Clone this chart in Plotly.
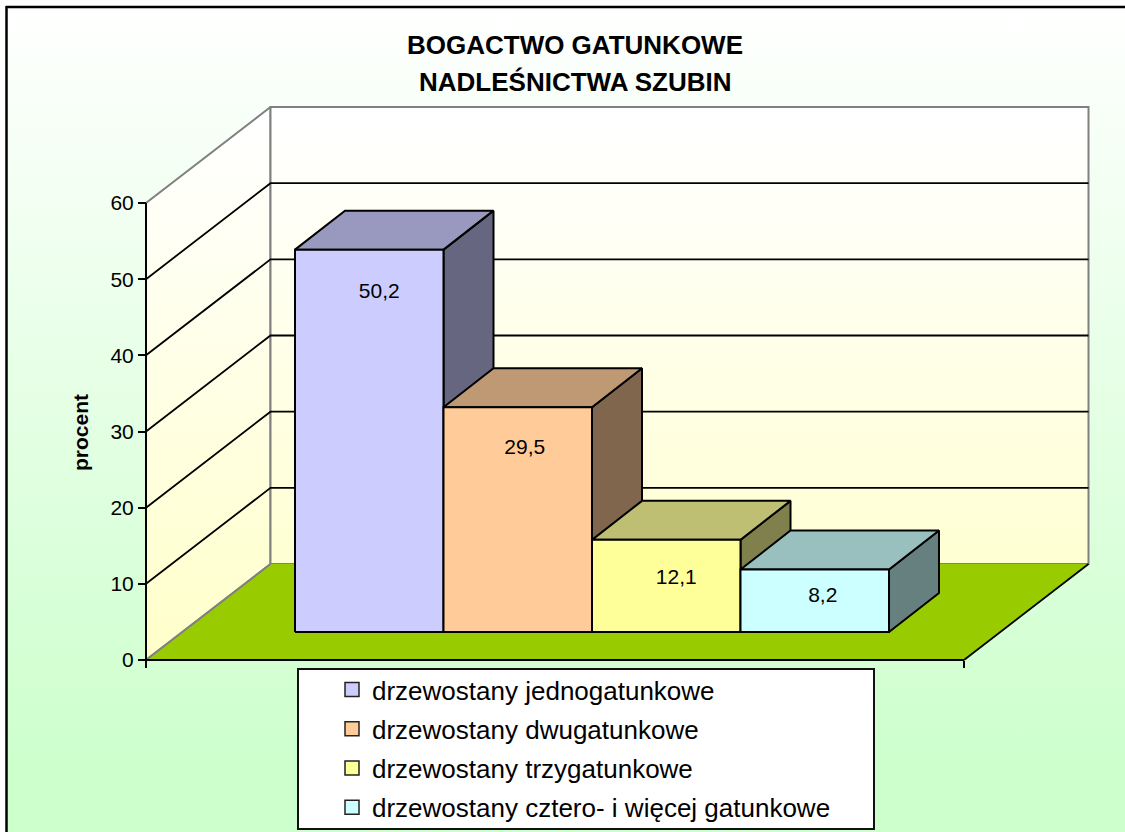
import plotly.graph_objects as go

# ---- data ----
series_names = ["drzewostany jednogatunkowe", "drzewostany dwugatunkowe",
                "drzewostany trzygatunkowe", "drzewostany cztero- i więcej gatunkowe"]
series_values = [50.2, 29.5, 12.1, 8.2]
y_ticks = [0, 10, 20, 30, 40, 50, 60]
title_lines = ["BOGACTWO GATUNKOWE", "NADLEŚNICTWA SZUBIN"]
y_title = "procent"

# ---- styling / layout constants ----
FRONT = ["#CCCCFF", "#FFCC99", "#FFFF99", "#CCFFFF"]
TOP = ["#9999BF", "#BF9973", "#BFBF73", "#99BFBF"]
SIDE = ["#666680", "#80664D", "#80804D", "#668080"]
W, H = 1125, 832
PX_L, PX_R, PX_Y0, PX_Y60 = 146, 964, 660, 203
UX = PX_R - PX_L
UY = (PX_Y0 - PX_Y60) / 60
X = lambda p: (p - PX_L) / UX
Y = lambda p: (PX_Y0 - p) / UY
FONT = "Liberation Sans, Arial, sans-serif"

WALL_DX, WALL_DY = 124.5 / UX, 96 / UY
BAR_X0, BAR_W = X(295), 148.5 / UX
BAR_BASE = Y(632)
BAR_DX, BAR_DY = 50 / UX, 39 / UY
LABEL_DX = [10, 7, 10, 8]
LABEL_DROP = [43, 41, 39, 27]

fig = go.Figure()


def poly(xs, ys, fill=None, line="black", lw=1.8, grad=None):
    kw = dict(x=list(xs) + [xs[0]], y=list(ys) + [ys[0]], mode="lines", fill="toself",
              line=dict(color=line, width=lw), showlegend=False, hoverinfo="skip")
    if grad:
        kw["fillgradient"] = grad
    else:
        kw["fillcolor"] = fill
    fig.add_trace(go.Scatter(**kw))


def seg(xs, ys, color="black", lw=1.8):
    fig.add_trace(go.Scatter(x=xs, y=ys, mode="lines", line=dict(color=color, width=lw),
                             showlegend=False, hoverinfo="skip"))


# page background
poly([X(7), X(W + 2), X(W + 2), X(7)], [Y(8), Y(8), Y(H + 2), Y(H + 2)],
     line="rgba(0,0,0,0)", lw=0,
     grad=dict(type="vertical", start=Y(780), stop=Y(8),
               colorscale=[[0, "#CCFFCC"], [1, "#FFFFFF"]]))

ymax = y_ticks[-1]
wall_grad = dict(type="vertical", start=Y(640), stop=Y(130),
                 colorscale=[[0, "#FFFFCC"], [1, "#FFFFFF"]])
# side wall, back wall, floor
poly([0, WALL_DX, WALL_DX, 0], [0, WALL_DY, ymax + WALL_DY, ymax], line="#808080", lw=2, grad=wall_grad)
poly([WALL_DX, 1 + WALL_DX, 1 + WALL_DX, WALL_DX], [WALL_DY, WALL_DY, ymax + WALL_DY, ymax + WALL_DY],
     line="#808080", lw=2, grad=wall_grad)
poly([0, 1, 1 + WALL_DX, WALL_DX], [0, 0, WALL_DY, WALL_DY], fill="#99CC00", line="rgba(0,0,0,0)", lw=0)
seg([0, WALL_DX], [0, WALL_DY], "#808080", 2)
seg([1, 1 + WALL_DX], [0, WALL_DY], "black", 1.8)
# gridlines
for t in y_ticks[1:-1]:
    seg([0, WALL_DX, 1 + WALL_DX], [t, t + WALL_DY, t + WALL_DY])
# axis lines
seg([0, 0], [0, ymax], "black", 2)
seg([0, 1], [0, 0], "black", 2)

# bars
for i, v in enumerate(series_values):
    x0 = BAR_X0 + i * BAR_W
    x1 = x0 + BAR_W
    y0 = BAR_BASE
    y1 = BAR_BASE + v
    poly([x1, x1 + BAR_DX, x1 + BAR_DX, x1], [y0, y0 + BAR_DY, y1 + BAR_DY, y1], SIDE[i], lw=2)
    poly([x0, x1, x1 + BAR_DX, x0 + BAR_DX], [y1, y1, y1 + BAR_DY, y1 + BAR_DY], TOP[i], lw=2)
    poly([x0, x1, x1, x0], [y0, y0, y1, y1], FRONT[i], lw=2)
    fig.add_trace(go.Scatter(x=[(x0 + x1) / 2 + LABEL_DX[i] / UX], y=[y1 - LABEL_DROP[i] / UY],
                             mode="text", text=[f"{v}".replace(".", ",")],
                             textfont=dict(family=FONT, size=21, color="black"),
                             textposition="middle center",
                             showlegend=False, hoverinfo="skip"))

# legend entries
for i, name in enumerate(series_names):
    fig.add_trace(go.Scatter(x=[None], y=[None], mode="markers", name=name, legendgroup=str(i),
                             marker=dict(symbol="square", size=14, color=FRONT[i],
                                         line=dict(color="#222222", width=1.5))))

fig.update_layout(
    template="none",
    width=W, height=H, autosize=False,
    margin=dict(l=0, r=0, t=0, b=0),
    paper_bgcolor="white", plot_bgcolor="rgba(0,0,0,0)",
    font=dict(family=FONT, color="black"),
    title=dict(text=title_lines[0], x=575 / W, xanchor="center", y=1 - 45 / H, yanchor="middle",
               font=dict(family=FONT, size=26, color="black", weight="bold")),
    annotations=[
        dict(text=f"<b>{title_lines[1]}</b>", xref="paper", yref="paper", x=575 / W, y=1 - 82 / H,
             xanchor="center", yanchor="middle", showarrow=False,
             font=dict(family=FONT, size=26, color="black")),
        dict(text=f"<b>{y_title}</b>", xref="paper", yref="paper", x=80 / W, y=1 - 433 / H,
             xanchor="center", yanchor="middle", textangle=-90, showarrow=False,
             font=dict(family=FONT, size=21, color="black")),
    ],
    xaxis=dict(domain=[0, 1], range=[X(0), X(W)], anchor="free", position=(H - PX_Y0) / H,
               tickvals=[0, 1], showticklabels=False, automargin=False,
               ticks="outside", ticklen=7, tickwidth=1.8, tickcolor="black",
               showline=False, showgrid=False, zeroline=False),
    yaxis=dict(domain=[0, 1], range=[Y(H), Y(0)], anchor="free", position=PX_L / W,
               tickvals=y_ticks, automargin=False,
               ticks="outside", ticklen=8, tickwidth=1.8, tickcolor="black",
               tickfont=dict(family=FONT, size=21, color="black"),
               showline=False, showgrid=False, zeroline=False),
    legend=dict(x=332 / W, xanchor="left", y=1 - 666 / H, yanchor="top", bgcolor="rgba(0,0,0,0)",
                borderwidth=0, tracegroupgap=2.5, font=dict(family=FONT, size=26, color="black"),
                traceorder="grouped"),
    shapes=[
        dict(type="rect", xref="paper", yref="paper", x0=298 / W, x1=874 / W, y0=1 - 829 / H, y1=1 - 669 / H,
             fillcolor="white", line=dict(color="#111111", width=2), layer="above"),
        dict(type="line", xref="paper", yref="paper", x0=6 / W, x1=1, y0=1 - 7 / H, y1=1 - 7 / H,
             line=dict(color="black", width=2.5), layer="above"),
        dict(type="line", xref="paper", yref="paper", x0=6.5 / W, x1=6.5 / W, y0=0, y1=1 - 6 / H,
             line=dict(color="black", width=2.5), layer="above"),
    ],
)
fig.write_html("out.html", config=dict(displayModeBar=False),
               post_script="document.body.style.margin='0';document.documentElement.style.overflow='hidden';")
